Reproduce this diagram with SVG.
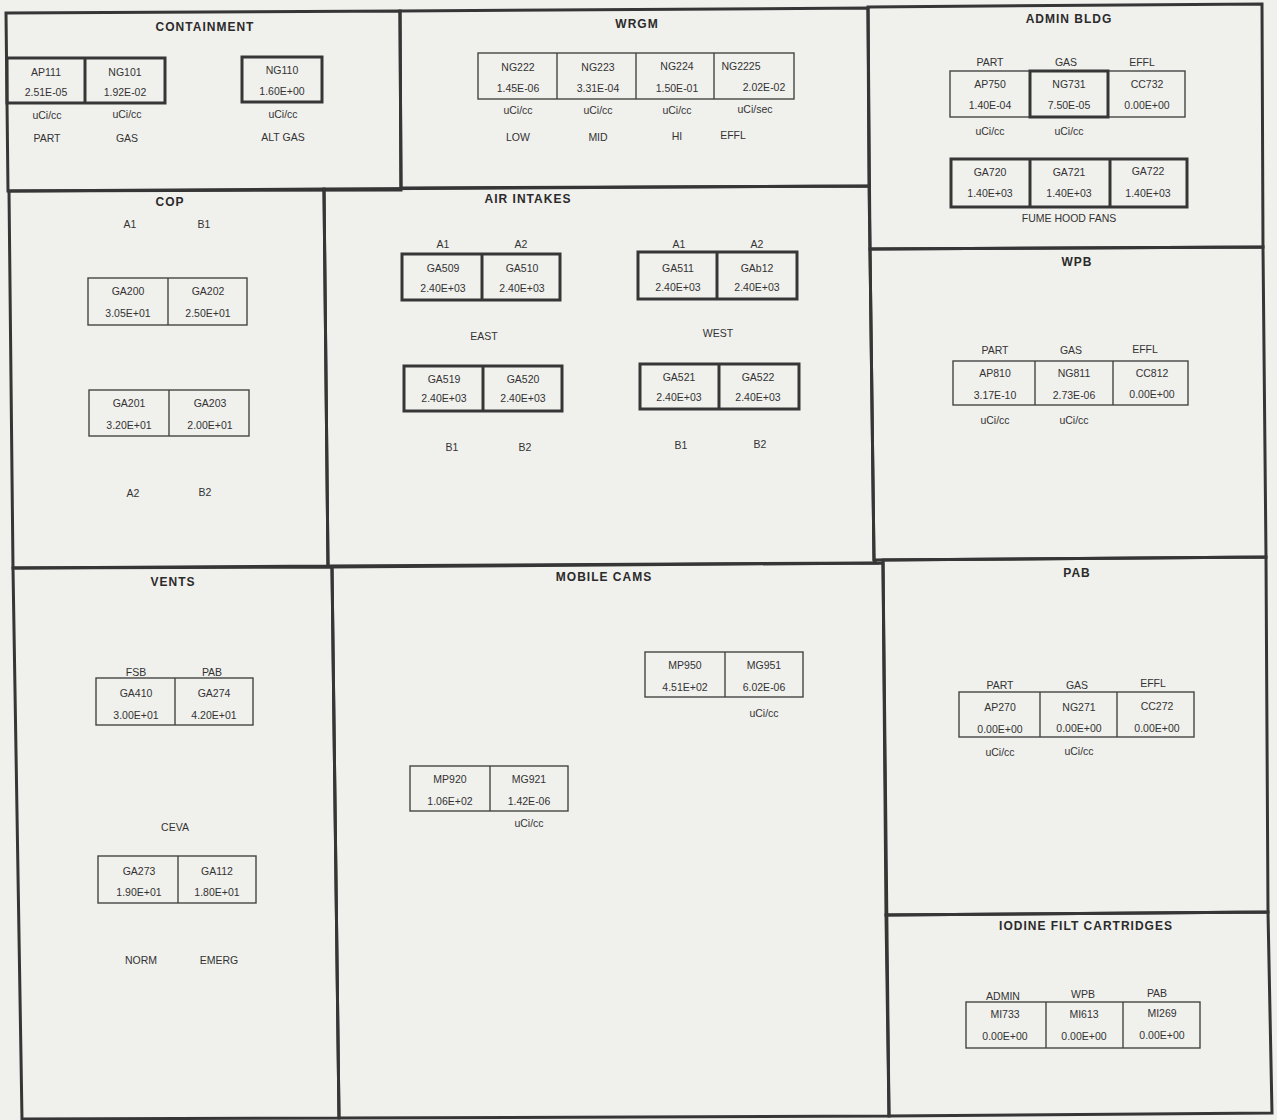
<svg xmlns="http://www.w3.org/2000/svg" width="1277" height="1120" viewBox="0 0 1277 1120">
<style>
.panel{fill:none;stroke:#363636;stroke-width:3;stroke-linejoin:miter}
.box{fill:none;stroke:#454545;stroke-width:1.4}
.tb{fill:none;stroke:#363636;stroke-width:3}
.ln{stroke:#454545;stroke-width:1.4}
.tln{stroke:#363636;stroke-width:3}
text{font-family:"Liberation Sans",Arial,sans-serif;font-size:10.5px;fill:#333;text-anchor:middle;dominant-baseline:central}
.h{font-weight:bold;font-size:12px;letter-spacing:1px;fill:#2b2b2b}
</style>
<rect x="0" y="0" width="1277" height="1120" fill="#f0f0ed"/>
<g id="connectors"/>

<g id="containment">
<polygon class="panel" points="6,13 400,11 401,190 8,191"/>
<text class="h" x="205" y="27">CONTAINMENT</text>
<rect class="tb" x="7" y="58" width="158" height="45"/>
<line class="tln" x1="85" y1="58" x2="85" y2="103"/>
<text x="46" y="72">AP111</text><text x="125" y="72">NG101</text>
<text x="46" y="92">2.51E-05</text><text x="125" y="92">1.92E-02</text>
<rect class="tb" x="242" y="57" width="80" height="45"/>
<text x="282" y="70">NG110</text><text x="282" y="91">1.60E+00</text>
<text x="47" y="115">uCi/cc</text><text x="127" y="114">uCi/cc</text><text x="283" y="114">uCi/cc</text>
<text x="47" y="138">PART</text><text x="127" y="138">GAS</text><text x="283" y="137">ALT GAS</text>
</g>

<g id="wrgm">
<polygon class="panel" points="400,11 868,8 869,186 401,188"/>
<text class="h" x="637" y="24">WRGM</text>
<rect class="box" x="478" y="53" width="316" height="46"/>
<line class="ln" x1="557" y1="53" x2="557" y2="99"/><line class="ln" x1="636" y1="53" x2="636" y2="99"/><line class="ln" x1="714" y1="53" x2="714" y2="99"/>
<text x="518" y="67">NG222</text><text x="598" y="67">NG223</text><text x="677" y="66">NG224</text><text x="741" y="66">NG2225</text>
<text x="518" y="88">1.45E-06</text><text x="598" y="88">3.31E-04</text><text x="677" y="88">1.50E-01</text><text x="764" y="87">2.02E-02</text>
<text x="518" y="110">uCi/cc</text><text x="598" y="110">uCi/cc</text><text x="677" y="110">uCi/cc</text><text x="755" y="109">uCi/sec</text>
<text x="518" y="137">LOW</text><text x="598" y="137">MID</text><text x="677" y="136">HI</text><text x="733" y="135">EFFL</text>
</g>

<g id="admin-bldg">
<polygon class="panel" points="868,7 1262,4 1263,247 870,249"/>
<text class="h" x="1069" y="19">ADMIN BLDG</text>
<text x="990" y="62">PART</text><text x="1066" y="62">GAS</text><text x="1142" y="62">EFFL</text>
<rect class="box" x="950" y="71" width="235" height="46"/>
<rect class="tb" x="1030" y="71" width="78" height="46"/>
<text x="990" y="84">AP750</text><text x="1069" y="84">NG731</text><text x="1147" y="84">CC732</text>
<text x="990" y="105">1.40E-04</text><text x="1069" y="105">7.50E-05</text><text x="1147" y="105">0.00E+00</text>
<text x="990" y="131">uCi/cc</text><text x="1069" y="131">uCi/cc</text>
<rect class="tb" x="951" y="159" width="236" height="48"/>
<line class="tln" x1="1030" y1="159" x2="1030" y2="207"/><line class="tln" x1="1110" y1="159" x2="1110" y2="207"/>
<text x="990" y="172">GA720</text><text x="1069" y="172">GA721</text><text x="1148" y="171">GA722</text>
<text x="990" y="193">1.40E+03</text><text x="1069" y="193">1.40E+03</text><text x="1148" y="193">1.40E+03</text>
<text x="1069" y="218">FUME HOOD FANS</text>
</g>

<g id="cop">
<polygon class="panel" points="9,191 324,189 328,566 13,568"/>
<text class="h" x="170" y="202">COP</text>
<text x="130" y="224">A1</text><text x="204" y="224">B1</text>
<rect class="box" x="88" y="278" width="159" height="47"/>
<line class="ln" x1="168" y1="278" x2="168" y2="325"/>
<text x="128" y="291">GA200</text><text x="208" y="291">GA202</text>
<text x="128" y="313">3.05E+01</text><text x="208" y="313">2.50E+01</text>
<rect class="box" x="89" y="390" width="160" height="46"/>
<line class="ln" x1="169" y1="390" x2="169" y2="436"/>
<text x="129" y="403">GA201</text><text x="210" y="403">GA203</text>
<text x="129" y="425">3.20E+01</text><text x="210" y="425">2.00E+01</text>
<text x="133" y="493">A2</text><text x="205" y="492">B2</text>
</g>

<g id="air-intakes">
<polygon class="panel" points="324,189 869,186 870,249 874,560 876,563 328,566"/>
<text class="h" x="528" y="199">AIR INTAKES</text>
<text x="443" y="244">A1</text><text x="521" y="244">A2</text><text x="679" y="244">A1</text><text x="757" y="244">A2</text>
<rect class="tb" x="402" y="254" width="158" height="46"/>
<line class="tln" x1="482" y1="254" x2="482" y2="300"/>
<text x="443" y="268">GA509</text><text x="522" y="268">GA510</text>
<text x="443" y="288">2.40E+03</text><text x="522" y="288">2.40E+03</text>
<rect class="tb" x="638" y="252" width="159" height="47"/>
<line class="tln" x1="717" y1="252" x2="717" y2="299"/>
<text x="678" y="268">GA511</text><text x="757" y="268">GAb12</text>
<text x="678" y="287">2.40E+03</text><text x="757" y="287">2.40E+03</text>
<text x="484" y="336">EAST</text><text x="718" y="333">WEST</text>
<rect class="tb" x="404" y="366" width="158" height="45"/>
<line class="tln" x1="483" y1="366" x2="483" y2="411"/>
<text x="444" y="379">GA519</text><text x="523" y="379">GA520</text>
<text x="444" y="398">2.40E+03</text><text x="523" y="398">2.40E+03</text>
<rect class="tb" x="640" y="364" width="159" height="45"/>
<line class="tln" x1="719" y1="364" x2="719" y2="409"/>
<text x="679" y="377">GA521</text><text x="758" y="377">GA522</text>
<text x="679" y="397">2.40E+03</text><text x="758" y="397">2.40E+03</text>
<text x="452" y="447">B1</text><text x="525" y="447">B2</text><text x="681" y="445">B1</text><text x="760" y="444">B2</text>
</g>

<g id="wpb">
<polygon class="panel" points="870,249 1263,247 1266,557 874,560"/>
<text class="h" x="1077" y="262">WPB</text>
<text x="995" y="350">PART</text><text x="1071" y="350">GAS</text><text x="1145" y="349">EFFL</text>
<rect class="box" x="953" y="361" width="235" height="44"/>
<line class="ln" x1="1035" y1="361" x2="1035" y2="405"/><line class="ln" x1="1113" y1="361" x2="1113" y2="405"/>
<text x="995" y="373">AP810</text><text x="1074" y="373">NG811</text><text x="1152" y="373">CC812</text>
<text x="995" y="395">3.17E-10</text><text x="1074" y="395">2.73E-06</text><text x="1152" y="394">0.00E+00</text>
<text x="995" y="420">uCi/cc</text><text x="1074" y="420">uCi/cc</text>
</g>

<g id="vents">
<polygon class="panel" points="13,568 332,567 339,1118 22,1119"/>
<text class="h" x="173" y="582">VENTS</text>
<text x="136" y="672">FSB</text><text x="212" y="672">PAB</text>
<rect class="box" x="96" y="678" width="157" height="47"/>
<line class="ln" x1="175" y1="678" x2="175" y2="725"/>
<text x="136" y="693">GA410</text><text x="214" y="693">GA274</text>
<text x="136" y="715">3.00E+01</text><text x="214" y="715">4.20E+01</text>
<text x="175" y="827">CEVA</text>
<rect class="box" x="98" y="856" width="158" height="47"/>
<line class="ln" x1="178" y1="856" x2="178" y2="903"/>
<text x="139" y="871">GA273</text><text x="217" y="871">GA112</text>
<text x="139" y="892">1.90E+01</text><text x="217" y="892">1.80E+01</text>
<text x="141" y="960">NORM</text><text x="219" y="960">EMERG</text>
</g>

<g id="mobile-cams">
<polygon class="panel" points="332,567 883,563 889,1116 339,1118"/>
<text class="h" x="604" y="577">MOBILE CAMS</text>
<rect class="box" x="645" y="652" width="158" height="45"/>
<line class="ln" x1="725" y1="652" x2="725" y2="697"/>
<text x="685" y="665">MP950</text><text x="764" y="665">MG951</text>
<text x="685" y="687">4.51E+02</text><text x="764" y="687">6.02E-06</text>
<text x="764" y="713">uCi/cc</text>
<rect class="box" x="410" y="766" width="158" height="45"/>
<line class="ln" x1="490" y1="766" x2="490" y2="811"/>
<text x="450" y="779">MP920</text><text x="529" y="779">MG921</text>
<text x="450" y="801">1.06E+02</text><text x="529" y="801">1.42E-06</text>
<text x="529" y="823">uCi/cc</text>
</g>

<g id="pab">
<polygon class="panel" points="883,560 1266,557 1268,912 886,915"/>
<text class="h" x="1077" y="573">PAB</text>
<text x="1000" y="685">PART</text><text x="1077" y="685">GAS</text><text x="1153" y="683">EFFL</text>
<rect class="box" x="959" y="692" width="235" height="45"/>
<line class="ln" x1="1040" y1="692" x2="1040" y2="737"/><line class="ln" x1="1117" y1="692" x2="1117" y2="737"/>
<text x="1000" y="707">AP270</text><text x="1079" y="707">NG271</text><text x="1157" y="706">CC272</text>
<text x="1000" y="729">0.00E+00</text><text x="1079" y="728">0.00E+00</text><text x="1157" y="728">0.00E+00</text>
<text x="1000" y="752">uCi/cc</text><text x="1079" y="751">uCi/cc</text>
</g>

<g id="iodine-filt-cartridges">
<polygon class="panel" points="886,915 1268,912 1272,1113 889,1116"/>
<text class="h" x="1086" y="926">IODINE FILT CARTRIDGES</text>
<text x="1003" y="996">ADMIN</text><text x="1083" y="994">WPB</text><text x="1157" y="993">PAB</text>
<rect class="box" x="966" y="1002" width="234" height="46"/>
<line class="ln" x1="1046" y1="1002" x2="1046" y2="1048"/><line class="ln" x1="1123" y1="1002" x2="1123" y2="1048"/>
<text x="1005" y="1014">MI733</text><text x="1084" y="1014">MI613</text><text x="1162" y="1013">MI269</text>
<text x="1005" y="1036">0.00E+00</text><text x="1084" y="1036">0.00E+00</text><text x="1162" y="1035">0.00E+00</text>
</g>
</svg>
